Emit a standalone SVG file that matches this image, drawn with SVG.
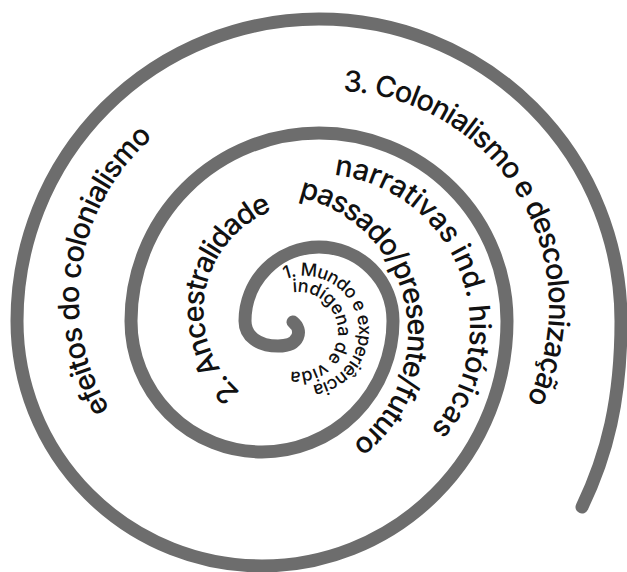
<svg xmlns="http://www.w3.org/2000/svg" width="627" height="572" viewBox="0 0 627 572">
<style>
.arm{fill:none;stroke:#6d6d6d;stroke-width:13;stroke-linecap:round;stroke-linejoin:round}
.lbl{font-family:Inter,"Noto Sans","Liberation Sans",sans-serif;font-size:29px;font-weight:500;fill:#111}
.sm{font-size:18px}
</style>
<defs>
<path id="p1a" d="M 285.2,279.3 A 55 55 0 1 1 285.2,382.7"/>
<path id="p1b" d="M 293,292.3 A 40 40 0 1 1 278,366.6"/>
<path id="p2" d="M 240.5,392.1 A 107.5 107.5 0 0 1 292.3,205.1"/>
<path id="p3" d="M 298.6,197.2 A 139 139 0 0 1 327.7,459"/>
<path id="p4" d="M 334.1,174.9 A 153 153 0 0 1 404.8,452.3"/>
<path id="p5" d="M 109.8,409.3 A 213 213 0 0 1 185.5,114.5"/>
<path id="p6" d="M 343,91.2 A 215 215 0 0 1 498.7,444.2"/>
</defs>
<rect width="627" height="572" fill="#fff"/>
<g id="spiral">
<path class="arm" d="M 293,322 C 303,330 300,346 278,346 C 258,346 245,336 245,321 A 74 74 0 0 1 393,321 A 131 131 0 0 1 131,321 A 188 188 0 0 1 507,321 A 245 245 0 0 1 17,321 A 302 302 0 0 1 621,321 C 621,400 607,455 582,507"/>
</g>
<g id="n1">
<text class="lbl sm"><textPath href="#p1a" textLength="183" lengthAdjust="spacing">1. Mundo e experiência</textPath></text>
<text class="lbl sm"><textPath href="#p1b" textLength="138" lengthAdjust="spacing">indígena de vida</textPath></text>
</g>
<g id="n2">
<text class="lbl"><textPath href="#p2" textLength="221" lengthAdjust="spacing">2. Ancestralidade</textPath></text>
</g>
<g id="n3">
<text class="lbl"><textPath href="#p3" textLength="317" lengthAdjust="spacing">passado/presente/futuro</textPath></text>
</g>
<g id="n4">
<text class="lbl"><textPath href="#p4" textLength="335" lengthAdjust="spacing">narrativas ind. históricas</textPath></text>
</g>
<g id="n5">
<text class="lbl"><textPath href="#p5" textLength="299" lengthAdjust="spacing">efeitos do colonialismo</textPath></text>
</g>
<g id="n6">
<text class="lbl"><textPath href="#p6" textLength="427" lengthAdjust="spacing">3. Colonialismo e descolonização</textPath></text>
</g>
</svg>
